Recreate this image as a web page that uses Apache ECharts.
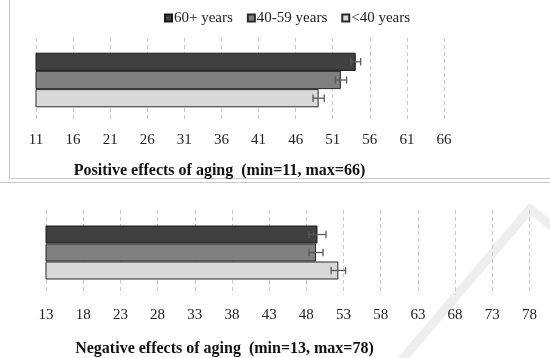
<!DOCTYPE html>
<html>
<head>
<meta charset="utf-8">
<script src="https://cdn.jsdelivr.net/npm/echarts@6/dist/echarts.min.js"></script>
<style>html,body{margin:0;padding:0;background:#fff}#c{width:550px;height:358px}</style>
</head>
<body>
<div id="c"></div>
<script>
// ---- data ----
const groups = ['60+ years', '40-59 years', '<40 years'];
const positiveMeans = [54.1, 52.1, 49.1];
const positiveErr = [0.67, 0.77, 0.76];
const negativeMeans = [49.5, 49.3, 52.3];
const negativeErr = [1.14, 0.94, 0.97];
const positiveTicks = { min: 11, max: 66, interval: 5 };
const negativeTicks = { min: 13, max: 78, interval: 5 };
const positiveTitle = 'Positive effects of aging  (min=11, max=66)';
const negativeTitle = 'Negative effects of aging  (min=13, max=78)';

const colors = ['#404040', '#808080', '#d9d9d9'];
const borders = ['#1a1a1a', '#2a2a2a', '#2a2a2a'];
const FONT = 'Liberation Serif';
const GAPS = [0.35, 0.365];

const chart = echarts.init(document.getElementById('c'));

function xAxisFor(gi, t) {
  return {
    type: 'value', gridIndex: gi, min: t.min, max: t.max, interval: t.interval,
    axisLine: { show: false }, axisTick: { show: false },
    axisLabel: { fontFamily: FONT, fontSize: 15, color: '#222', margin: gi === 0 ? 10.5 : 12.5 },
    splitLine: { show: true, lineStyle: { type: [4, 3], color: '#c8c8c8', width: 1 } }
  };
}
function yAxisFor(gi) {
  return {
    type: 'category', gridIndex: gi, data: ['g'],
    axisLine: { show: false }, axisTick: { show: false }, axisLabel: { show: false },
    splitLine: { show: false }
  };
}

const series = [];
[[positiveMeans, positiveErr], [negativeMeans, negativeErr]].forEach(([means, errs], gi) => {
  const GAP = GAPS[gi];
  groups.forEach((g, k) => {
    series.push({
      name: g, type: 'bar', xAxisIndex: gi, yAxisIndex: gi,
      data: [means[k]], barGap: '0%', barCategoryGap: (GAP * 100) + '%',
      itemStyle: { color: colors[k], borderColor: borders[k], borderWidth: 1 },
      emphasis: { disabled: true }, animation: false
    });
  });
  series.push({
    type: 'custom', xAxisIndex: gi, yAxisIndex: gi, animation: false, silent: true, z: 5,
    data: groups.map((g, k) => [0, means[k] - errs[k], means[k] + errs[k], k]),
    encode: { x: [1, 2], y: 0 },
    renderItem: function (params, api) {
      const k = api.value(3);
      const band = api.size([0, 1])[1];
      const bw = band * (1 - GAP) / 3;
      const p1 = api.coord([api.value(1), api.value(0)]);
      const p2 = api.coord([api.value(2), api.value(0)]);
      const y = p1[1] + (k - 1) * bw;
      const h = 3.7;
      const style = { stroke: '#5a5a5a', lineWidth: 1.3, fill: null };
      return {
        type: 'group', children: [
          { type: 'line', shape: { x1: p1[0], y1: y, x2: p2[0], y2: y }, style },
          { type: 'line', shape: { x1: p1[0], y1: y - h, x2: p1[0], y2: y + h }, style },
          { type: 'line', shape: { x1: p2[0], y1: y - h, x2: p2[0], y2: y + h }, style }
        ]
      };
    }
  });
});

chart.setOption({
  animation: false,
  legend: {
    data: groups, top: 10.5, left: 164, padding: 0, itemWidth: 7, itemHeight: 7, itemGap: 14,
    icon: 'rect',
    textStyle: { fontFamily: FONT, fontSize: 15, color: '#222', padding: [0, 0, 0, -3] }
  },
  title: [
    { text: positiveTitle, left: 219.5, top: 162.5, textAlign: 'center', padding: 0,
      textStyle: { fontFamily: FONT, fontSize: 16, fontWeight: 'bold', color: '#111' } },
    { text: negativeTitle, left: 224.5, top: 341, textAlign: 'center', padding: 0,
      textStyle: { fontFamily: FONT, fontSize: 16, fontWeight: 'bold', color: '#111' } }
  ],
  grid: [
    { left: 36, right: 106, top: 38, height: 84, containLabel: false },
    { left: 46, right: 20.5, top: 210, height: 85, containLabel: false }
  ],
  xAxis: [xAxisFor(0, positiveTicks), xAxisFor(1, negativeTicks)],
  yAxis: [yAxisFor(0), yAxisFor(1)],
  series: series,
  graphic: [
    { type: 'polyline', shape: { points: [[9.5, 0], [9.5, 178.5], [550, 178.5]] }, style: { stroke: '#c8c8c8', lineWidth: 1, fill: null }, silent: true },
    { type: 'line', shape: { x1: 0, y1: 182.5, x2: 550, y2: 182.5 }, style: { stroke: '#c8c8c8', lineWidth: 1 }, silent: true },
    { type: 'polyline', z: -10, shape: { points: [[400, 362], [530, 209], [552, 226]] }, style: { stroke: '#eeeeee', lineWidth: 9, fill: null }, silent: true }
  ]
});
</script>
</body>
</html>
